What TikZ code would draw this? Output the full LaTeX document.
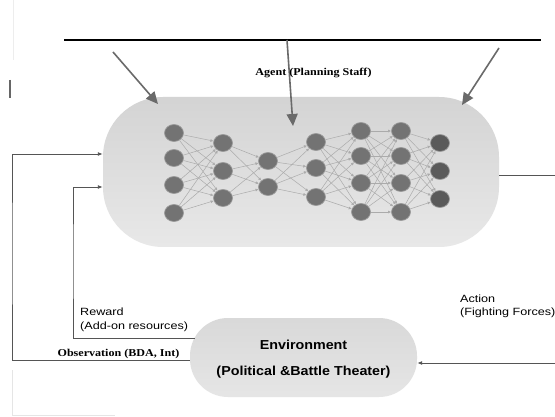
\documentclass[tikz,border=0pt]{standalone}
\usepackage{graphicx}
\usepackage{fontspec}
\setmainfont{Liberation Serif}
\setsansfont{Liberation Sans}
\usetikzlibrary{arrows.meta,shapes.geometric}
\definecolor{arrowgray}{HTML}{6A6A6A}
\definecolor{linegray}{HTML}{555555}
\definecolor{nodefill}{HTML}{737373}
\definecolor{nodeedge}{HTML}{9A9A9A}
\definecolor{lastfill}{HTML}{5A5A5A}
\definecolor{conngray}{HTML}{ABABAB}
\newcommand{\widen}[2]{\scalebox{#1}[1]{#2}}
\begin{document}
\begin{tikzpicture}[x=1pt,y=-1pt,
  topbar/.style={draw=black, line width=2.4pt},
  bigarrow/.style={draw=arrowgray, line width=1.6pt, -{Triangle[length=12pt,width=11pt]}},
  fbline/.style={draw=linegray, line width=0.9pt, -{Latex[length=5pt,width=4pt]}},
  neuron/.style={ellipse, minimum width=19pt, minimum height=17pt, inner sep=0pt, fill=nodefill, draw=nodeedge, line width=0.7pt},
  outneuron/.style={neuron, fill=lastfill},
  conn/.style={draw=conngray, line width=0.5pt, -{Latex[length=3pt,width=3pt]}},
  agentbox/.style={rectangle, rounded corners=60pt, minimum width=396pt, minimum height=150pt, inner sep=0pt, top color=black!17, bottom color=black!9, draw=none},
  envbox/.style={rectangle, rounded corners=38pt, minimum width=227pt, minimum height=79pt, inner sep=0pt, top color=black!15, bottom color=black!10, draw=none, font=\sffamily\bfseries\fontsize{13}{26}\selectfont},
  seriflabel/.style={font=\rmfamily\bfseries\fontsize{10.5}{12}\selectfont, inner sep=0pt},
  sanslabel/.style={font=\sffamily\fontsize{10.5}{14}\selectfont, inner sep=0pt, anchor=west}
]
\fill[white] (0,0) rectangle (555,417);
\useasboundingbox (0,0) rectangle (555,417);

% faint scan marks
\draw[black!7, line width=0.8pt] (13,0) -- (13,60);
\draw[black!60, line width=1.4pt] (10,80) -- (10,98);
\draw[black!10, line width=0.8pt] (12,370) -- (12,415) -- (115,415);

% boxes
\node[agentbox] (agent) at (301,172) {};
\node[envbox] (env) at (303.5,357.5) {\widen{1.1}{\begin{tabular}{@{}c@{}}Environment\\(Political \&Battle Theater)\end{tabular}}};

% top bar and arrows
\coordinate (topL) at (64,40);
\coordinate (topR) at (541,40);
\draw[topbar] (topL) -- (topR);
\coordinate (a1s) at (113,52);
\coordinate (a1e) at (158,104);
\coordinate (a2s) at (287,40);
\coordinate (a2e) at (293,126);
\coordinate (a3s) at (499,48);
\coordinate (a3e) at (462,105);
\draw[bigarrow] (a1s) -- (a1e);
\draw[bigarrow] (a2s) -- (a2e);
\draw[bigarrow] (a3s) -- (a3e);

\node[seriflabel] (agentlbl) at (313.5,73) {\widen{1.15}{Agent (Planning Staff)}};

% neural network
\foreach \yy [count=\i] in {133,158,185,213} \node[neuron] (n1-\i) at (174,\yy) {};
\foreach \yy [count=\i] in {143,171,198} \node[neuron] (n2-\i) at (223,\yy) {};
\foreach \yy [count=\i] in {161,187} \node[neuron] (n3-\i) at (268,\yy) {};
\foreach \yy [count=\i] in {142,168,197} \node[neuron] (n4-\i) at (316,\yy) {};
\foreach \yy [count=\i] in {131,156,183,212} \node[neuron] (n5-\i) at (361,\yy) {};
\foreach \yy [count=\i] in {131,156,183,212} \node[neuron] (n6-\i) at (401,\yy) {};
\foreach \yy [count=\i] in {143,171,199} \node[outneuron] (n7-\i) at (440,\yy) {};
\foreach \a/\na/\b/\nb in {1/4/2/3, 2/3/3/2, 3/2/4/3, 4/3/5/4, 5/4/6/4, 6/4/7/3} {
  \foreach \i in {1,...,\na} {
    \foreach \j in {1,...,\nb} {
      \draw[conn] (n\a-\i) -- (n\b-\j);
    }
  }
}

% feedback connectors
\coordinate (obsCorner) at (12,250);
\coordinate (rwCorner) at (73,260);
\coordinate (actCorner) at (562,270);
\draw[fbline] ([yshift=-2.5pt]env.west) -| (obsCorner) |- ([yshift=18pt]agent.west);
\draw[fbline] ([shift={(5pt,19.5pt)}]env.west) -| (rwCorner) |- ([yshift=-15pt]agent.west);
\draw[fbline] ([yshift=-3pt]agent.east) -| (actCorner) |- ([yshift=-5.5pt]env.east);

% labels
\node[sanslabel] (rewardlbl) at (80,320) {\widen{1.2}{\begin{tabular}{@{}l@{}}Reward\\(Add-on resources)\end{tabular}}};
\node[seriflabel] (obslbl) at (118.5,354) {\widen{1.15}{Observation (BDA, Int)}};
\node[sanslabel, font=\sffamily\fontsize{10.5}{13}\selectfont] (actionlbl) at (460,306.5) {\widen{1.2}{\begin{tabular}{@{}l@{}}Action\\(Fighting Forces)\end{tabular}}};
\end{tikzpicture}
\end{document}
